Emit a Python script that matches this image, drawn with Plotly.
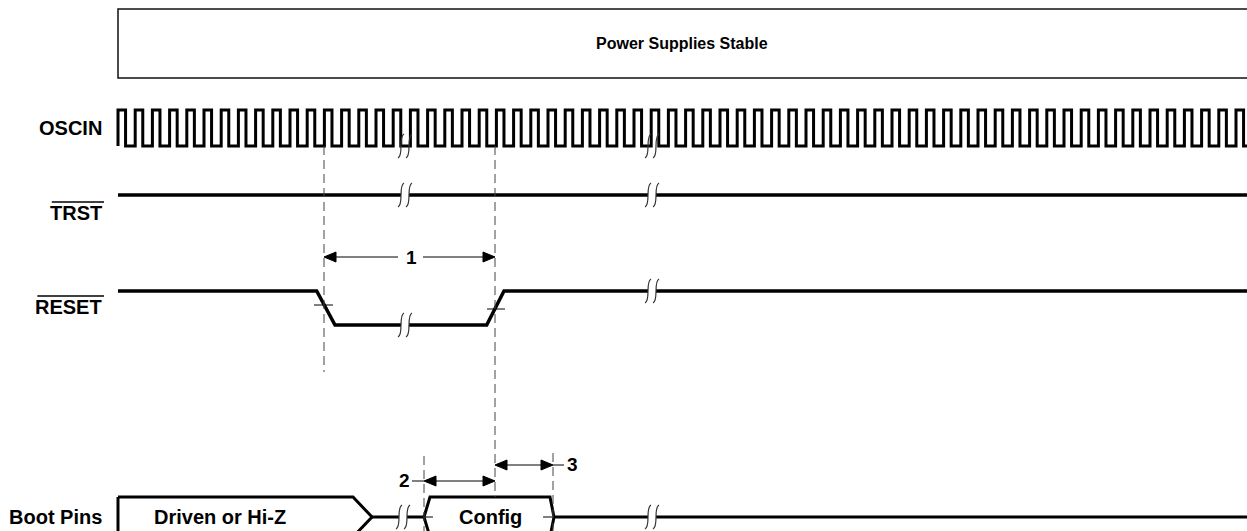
import plotly.graph_objects as go

# ---------------- data (time axis in diagram units) ----------------
signal_labels = ["OSCIN", "TRST", "RESET", "Boot Pins"]
signal_overbar = [False, True, True, False]
header_text = "Power Supplies Stable"

t_start = 118.0
t_end = 1247.0
clock_period = 17.2
clock_high_fraction = 0.44
clock_cycles = 66

break_times = [405.0, 652.0]          # squiggle break marks
reset_fall = [316.7, 335.0]           # RESET falling edge (start, end)
reset_rise = [486.7, 504.0]           # RESET rising edge (start, end)
reset_cross = [324.0, 495.0]          # 50% crossing points

# timing parameters: (label, from, to)
timing_params = [("1", 324.0, 495.0), ("2", 424.0, 495.0), ("3", 495.0, 553.0)]

# boot-pin bus segments: (text, start, end, chevron width)
bus_segments = [("Driven or Hi-Z", 118.0, 372.0, 19.0), ("Config", 424.0, 554.0, 4.0)]
boot_break = [403.0, 652.0]

# ---------------- layout constants ----------------
W, H = 1247, 531
FONT = "Arial, Liberation Sans, sans-serif"
BLACK = "#000000"
LW = 3
LABEL_SIZE = 20
HEADER_SIZE = 16

box_top, box_bot = 9, 78
clk_hi, clk_lo = 110, 146
trst_y = 195
rst_hi, rst_lo = 291, 325
bus_top, bus_mid = 497, 517
label_x = 104
row_label_y = [(clk_hi + clk_lo) / 2, 213, 307, bus_mid]

# Arial bold advance widths (em) for overline length
CW = {"T": 0.611, "R": 0.722, "S": 0.667, "E": 0.667}

fig = go.Figure()
shapes = []
annotations = []

def line_trace(xs, ys, width=LW, color=BLACK):
    fig.add_trace(go.Scatter(x=xs, y=ys, mode="lines",
                             line=dict(color=color, width=width, shape="linear"),
                             hoverinfo="skip", showlegend=False))

def seg(x0, y0, x1, y1, width=1, color=BLACK, dash=None):
    d = dict(type="line", xref="x", yref="y", x0=x0, y0=y0, x1=x1, y1=y1,
             line=dict(color=color, width=width))
    if dash:
        d["line"]["dash"] = dash
    shapes.append(d)

def squiggle(cx, cy, gap=True):
    if gap:
        shapes.append(dict(type="rect", xref="x", yref="y", x0=cx - 4, x1=cx + 4,
                           y0=cy - 3, y1=cy + 3, fillcolor="white",
                           line=dict(width=0), layer="above"))
    for dx in (-4, 4):
        x = cx + dx
        p = (f"M {x+3},{cy-12} C {x-3},{cy-9} {x+3},{cy+9} {x-3},{cy+12}")
        shapes.append(dict(type="path", xref="x", yref="y", path=p,
                           line=dict(color="#333333", width=1.2), layer="above"))

def arrowhead(xtip, y, direction, length=12, half=5):
    xb = xtip - direction * length
    p = f"M {xtip},{y} L {xb},{y-half} L {xb},{y+half} Z"
    shapes.append(dict(type="path", xref="x", yref="y", path=p,
                       fillcolor=BLACK, line=dict(color=BLACK, width=1)))

def text(x, y, s, size=LABEL_SIZE, xanchor="center"):
    annotations.append(dict(x=x, y=y, text=f"<b>{s}</b>", showarrow=False,
                            xanchor=xanchor, yanchor="middle",
                            font=dict(family=FONT, size=size, color=BLACK)))

# ---- header box ----
shapes.append(dict(type="rect", xref="x", yref="y", x0=t_start, x1=t_end + 20,
                   y0=box_top, y1=box_bot, line=dict(color="#111111", width=1.5)))
text(682, (box_top + box_bot) / 2, header_text, size=HEADER_SIZE)

# ---- OSCIN clock ----
xs, ys = [t_start], [clk_lo]
for k in range(clock_cycles):
    r = t_start + k * clock_period
    f = r + clock_period * clock_high_fraction
    if r > t_end:
        break
    xs += [r, r]
    ys += [clk_lo, clk_hi]
    xs += [min(f, t_end)]
    ys += [clk_hi]
    if f >= t_end:
        break
    xs += [f, min(r + clock_period, t_end)]
    ys += [clk_lo, clk_lo]
line_trace(xs, ys, width=3)

# ---- TRST ----
line_trace([t_start, t_end], [trst_y, trst_y], width=3.5)

# ---- RESET ----
line_trace([t_start, reset_fall[0], reset_fall[1], reset_rise[0], reset_rise[1], t_end],
           [rst_hi, rst_hi, rst_lo, rst_lo, rst_hi, rst_hi], width=3.5)
seg(reset_cross[0] - 10, 305, reset_cross[0] + 9, 305, width=1)
seg(reset_cross[1] - 8, 309, reset_cross[1] + 10, 309, width=1)

# ---- Boot pins bus ----
bus_bot = 2 * bus_mid - bus_top
(txt0, s0, e0, c0), (txt1, s1, e1, c1) = bus_segments
line_trace([s0, s0], [bus_top, H + 5], width=3)
line_trace([s0, e0 - c0, e0, e0 - c0], [bus_top, bus_top, bus_mid, bus_bot], width=3)
line_trace([e0, s1], [bus_mid, bus_mid], width=3)
line_trace([s1 + c1 + 2, s1, s1 + c1 + 2, e1 - c1, e1, e1 - c1, s1 + c1 + 2],
           [bus_bot, bus_mid, bus_top, bus_top, bus_mid, bus_bot, bus_bot], width=3)
line_trace([e1, t_end], [bus_mid, bus_mid], width=3)
text(220, bus_mid, txt0)
text(490, bus_mid, txt1)
seg(s1 - 4, bus_mid, s1 + 9, bus_mid, width=1)
seg(e1 - 11, bus_mid, e1 + 3, bus_mid, width=1)

# ---- squiggle break marks ----
for bt in break_times:
    squiggle(bt, clk_lo, gap=False)
    squiggle(bt, trst_y)
squiggle(break_times[0], rst_lo)
squiggle(break_times[1], rst_hi)
for bt in boot_break:
    squiggle(bt, bus_mid)

# ---- dashed reference lines ----
DASH = "9px,5px"
DC = "#444444"
seg(timing_params[0][1], clk_lo, timing_params[0][1], 372, color=DC, dash=DASH)
seg(timing_params[0][2], clk_lo, timing_params[0][2], bus_top, color=DC, dash=DASH)
seg(timing_params[1][1], 456, timing_params[1][1], H, color=DC, dash=DASH)
seg(timing_params[2][2], 453, timing_params[2][2], H, color=DC, dash=DASH)

# ---- timing parameter arrows ----
arrow_y = [257, 481, 465]
for (lab, a, b), y in zip(timing_params, arrow_y):
    arrowhead(a, y, -1)
    arrowhead(b, y, +1)
    if lab == "1":
        mid = 411
        seg(a + 10, y, mid - 13, y)
        seg(mid + 12, y, b - 10, y)
        text(mid, y, lab, size=19)
    else:
        seg(a + 10, y, b - 10, y)
        if lab == "2":
            seg(a - 12, y, a, y)
            text(a - 12, y - 1, lab, size=19, xanchor="right")
        else:
            seg(b, y, b + 11, y)
            text(b + 12, y - 1, lab, size=19, xanchor="left")

# ---- row labels ----
for lab, ob, ly in zip(signal_labels, signal_overbar, row_label_y):
    text(label_x, ly, lab, xanchor="right")
    if ob:
        wlen = sum(CW[c] for c in lab) * LABEL_SIZE
        seg(label_x - wlen, ly - 11, label_x, ly - 11, width=1.3)

fig.update_layout(
    width=W, height=H,
    margin=dict(l=0, r=0, t=0, b=0),
    paper_bgcolor="white", plot_bgcolor="white",
    xaxis=dict(range=[0, W], visible=False, fixedrange=True),
    yaxis=dict(range=[H, 0], visible=False, fixedrange=True),
    shapes=shapes, annotations=annotations, showlegend=False,
)
fig.write_html("out.html", config={"displayModeBar": False},
               post_script="document.body.style.margin='0px';"
                           "document.body.style.overflow='hidden';")
